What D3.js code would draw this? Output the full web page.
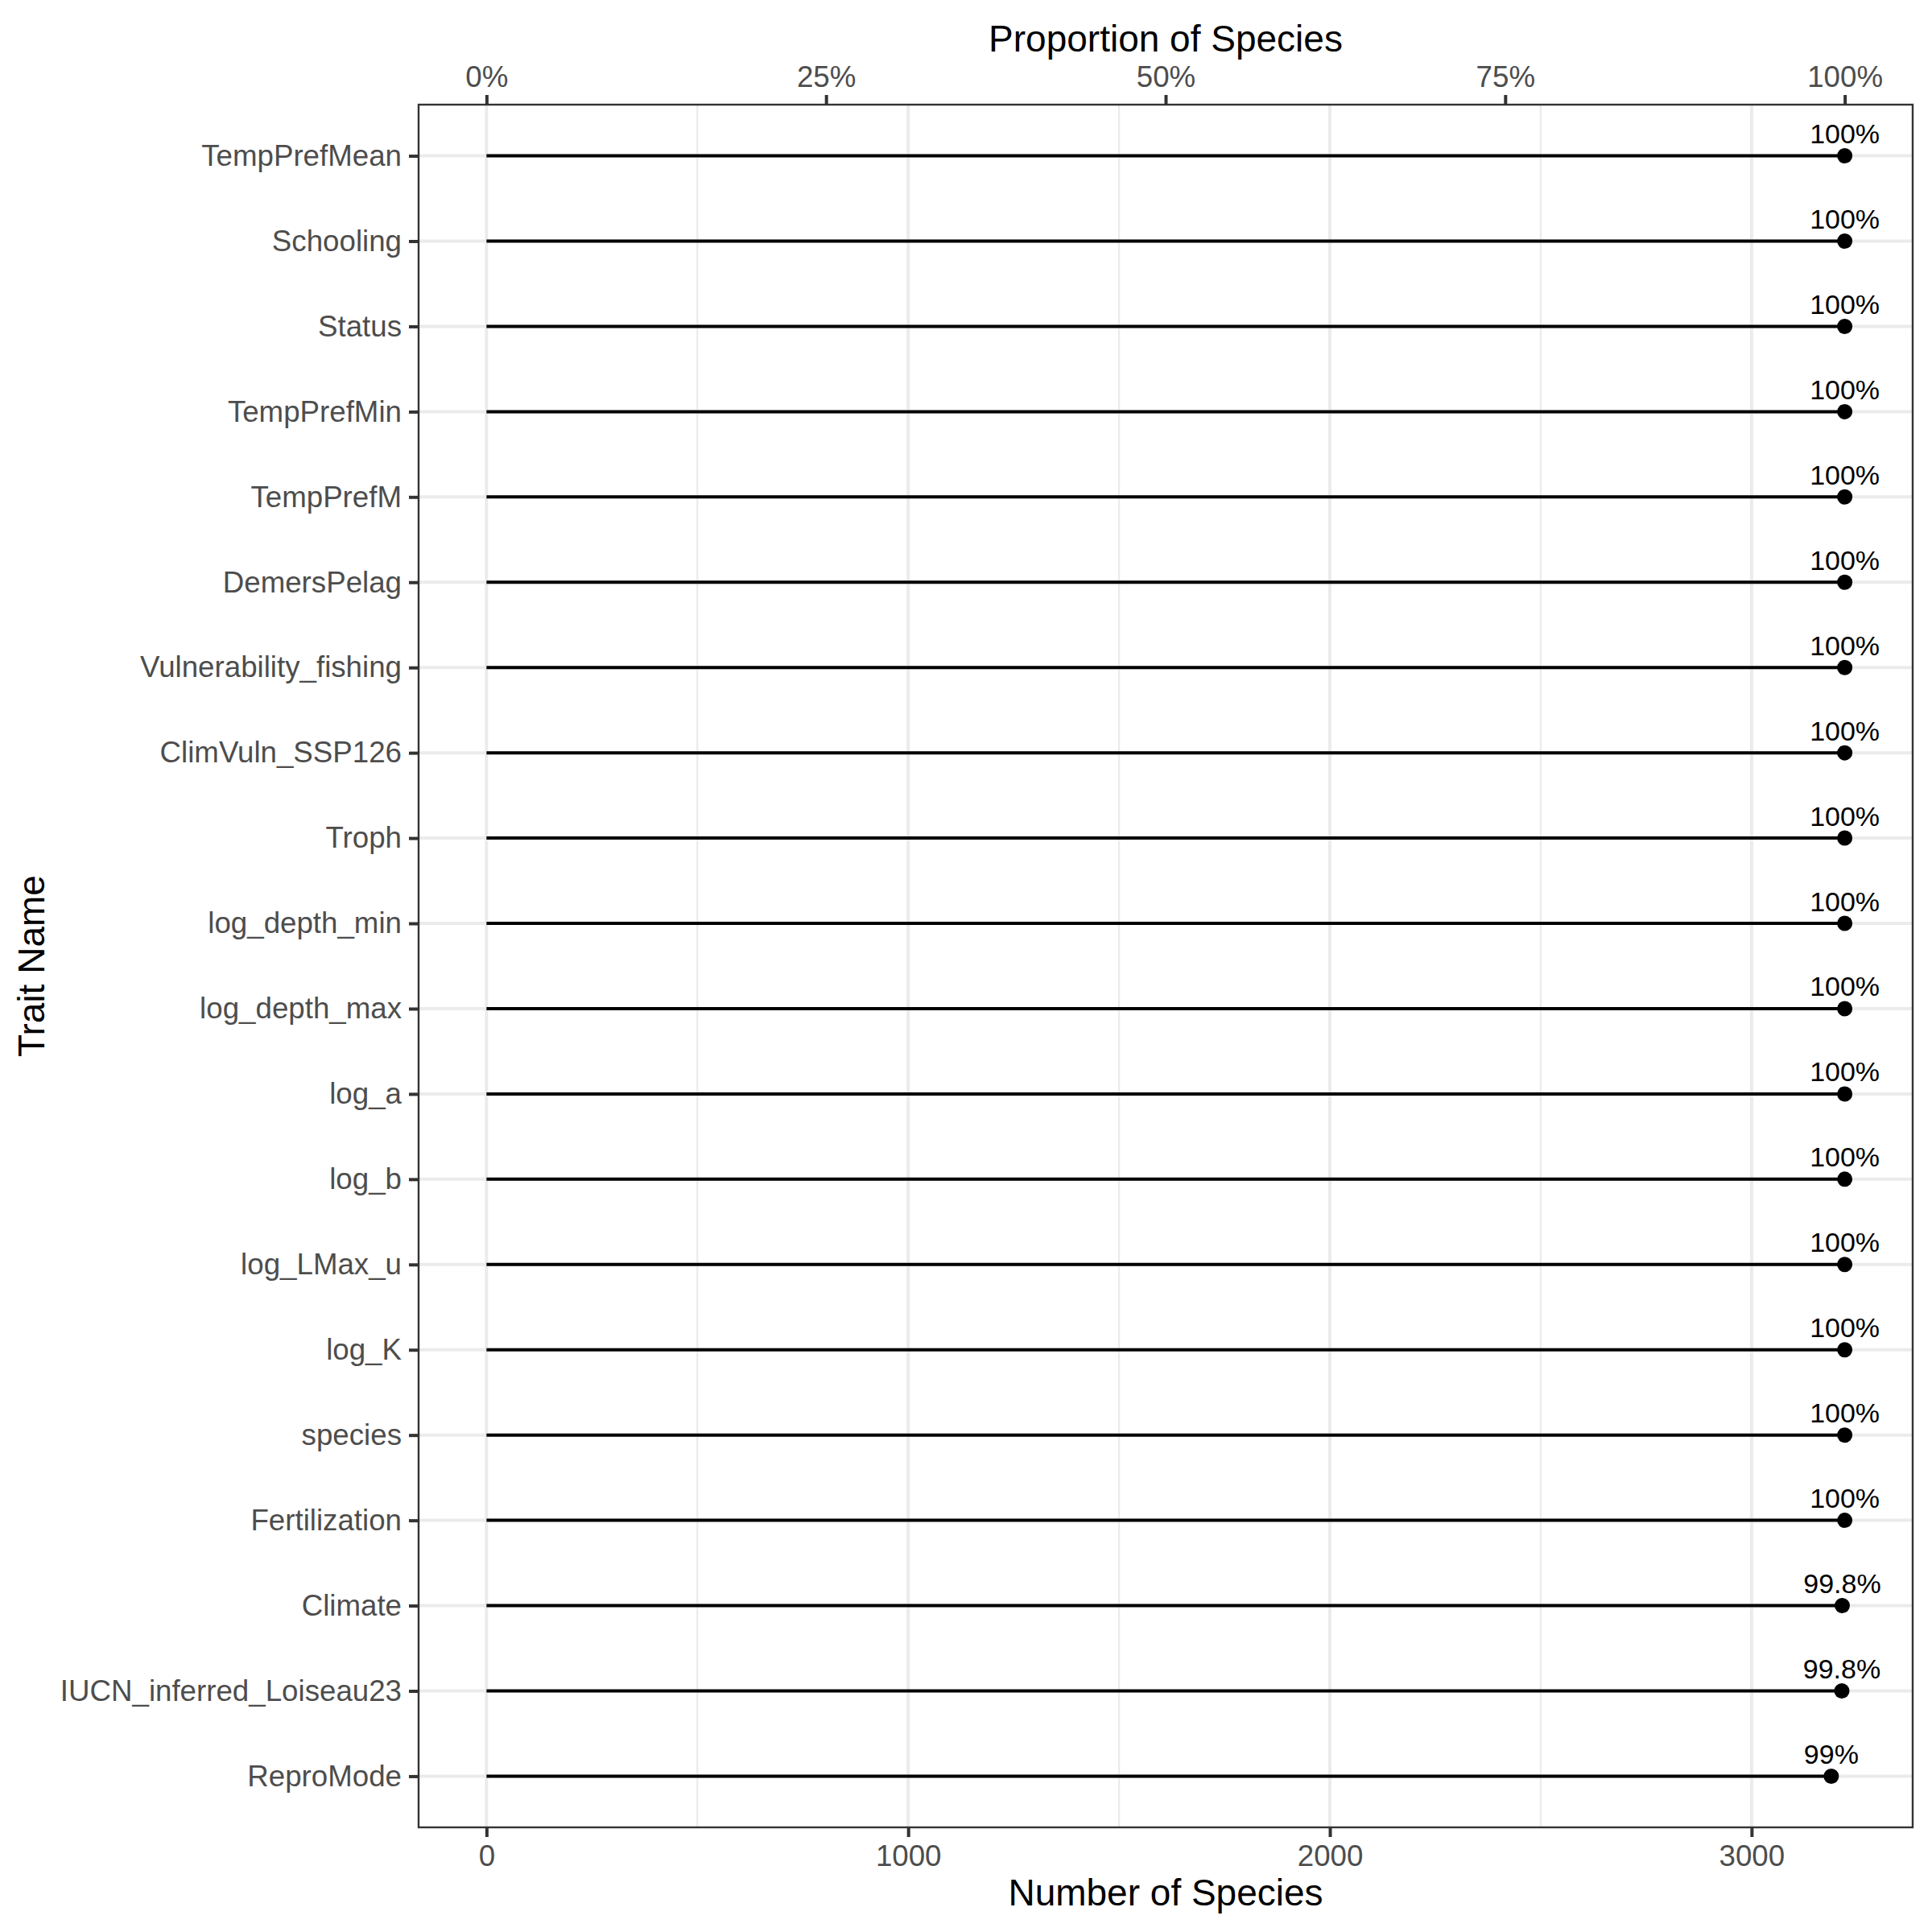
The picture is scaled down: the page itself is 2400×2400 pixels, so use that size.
<!DOCTYPE html>
<html>
<head>
<meta charset="utf-8">
<script src="https://cdn.jsdelivr.net/npm/d3@7"></script>
<style>
  html, body { margin: 0; padding: 0; background: #ffffff; }
  svg { display: block; }
  text { font-family: "Liberation Sans", Arial, Helvetica, sans-serif; }
</style>
</head>
<body>
<svg id="chart" width="2400" height="2400"></svg>
<script>
// ---- data ----
const traits = ["TempPrefMean","Schooling","Status","TempPrefMin","TempPrefM","DemersPelag",
  "Vulnerability_fishing","ClimVuln_SSP126","Troph","log_depth_min","log_depth_max","log_a",
  "log_b","log_LMax_u","log_K","species","Fertilization","Climate","IUCN_inferred_Loiseau23","ReproMode"];
const speciesCounts = [3221,3221,3221,3221,3221,3221,3221,3221,3221,3221,3221,3221,3221,3221,3221,3221,3221,3215,3214,3189];
const pctLabels = ["100%","100%","100%","100%","100%","100%","100%","100%","100%","100%",
  "100%","100%","100%","100%","100%","100%","100%","99.8%","99.8%","99%"];
const totalSpecies = 3221;
const countTicks = [0, 1000, 2000, 3000];
const countMinorTicks = [500, 1500, 2500];
const pctTicks = [0, 0.25, 0.5, 0.75, 1];
const pctTickLabels = ["0%","25%","50%","75%","100%"];

// ---- layout ----
const W = 2400, H = 2400;
const panel = { left: 520, right: 2376, top: 130, bottom: 2270 };
const svg = d3.select("#chart");

const x = d3.scaleLinear()
  .domain([-0.05 * totalSpecies, 1.05 * totalSpecies])
  .range([panel.left, panel.right]);
const xPct = d3.scaleLinear()
  .domain([-0.05, 1.05])
  .range([panel.left, panel.right]);
const y = d3.scalePoint()
  .domain(traits)
  .range([panel.top, panel.bottom])
  .padding(0.6);

// panel background
svg.append("rect")
  .attr("x", panel.left).attr("y", panel.top)
  .attr("width", panel.right - panel.left).attr("height", panel.bottom - panel.top)
  .attr("fill", "#ffffff");

const grid = svg.append("g");
// minor vertical grid
grid.selectAll("line.minor").data(countMinorTicks).enter().append("line")
  .attr("x1", d => x(d)).attr("x2", d => x(d))
  .attr("y1", panel.top).attr("y2", panel.bottom)
  .attr("stroke", "#EBEBEB").attr("stroke-width", 2.2);
// major vertical grid
grid.selectAll("line.majorx").data(countTicks).enter().append("line")
  .attr("x1", d => x(d)).attr("x2", d => x(d))
  .attr("y1", panel.top).attr("y2", panel.bottom)
  .attr("stroke", "#EBEBEB").attr("stroke-width", 4);
// major horizontal grid
grid.selectAll("line.majory").data(traits).enter().append("line")
  .attr("x1", panel.left).attr("x2", panel.right)
  .attr("y1", d => y(d)).attr("y2", d => y(d))
  .attr("stroke", "#EBEBEB").attr("stroke-width", 4);

// lollipops
const rows = traits.map((t, i) => ({ trait: t, count: speciesCounts[i], label: pctLabels[i] }));
const marks = svg.append("g");
marks.selectAll("line.seg").data(rows).enter().append("line")
  .attr("x1", x(0)).attr("x2", d => x(d.count))
  .attr("y1", d => y(d.trait)).attr("y2", d => y(d.trait))
  .attr("stroke", "#000000").attr("stroke-width", 4);
marks.selectAll("circle").data(rows).enter().append("circle")
  .attr("cx", d => x(d.count)).attr("cy", d => y(d.trait))
  .attr("r", 9.5).attr("fill", "#000000");
marks.selectAll("text").data(rows).enter().append("text")
  .attr("x", d => x(d.count)).attr("y", d => y(d.trait) - 15.5)
  .attr("text-anchor", "middle")
  .attr("font-size", 34)
  .attr("fill", "#000000")
  .text(d => d.label);

// panel border
svg.append("rect")
  .attr("x", panel.left).attr("y", panel.top)
  .attr("width", panel.right - panel.left).attr("height", panel.bottom - panel.top)
  .attr("fill", "none").attr("stroke", "#333333").attr("stroke-width", 2.4);

function styleAxis(g) {
  g.select(".domain").remove();
  g.selectAll(".tick line").attr("stroke", "#333333").attr("stroke-width", 4);
  g.selectAll(".tick text").attr("fill", "#4D4D4D").attr("font-size", 36.7)
    .attr("font-family", "\"Liberation Sans\", Arial, Helvetica, sans-serif");
}

// bottom axis
svg.append("g")
  .attr("transform", `translate(0,${panel.bottom})`)
  .call(d3.axisBottom(x).tickValues(countTicks).tickFormat(d3.format("d")).tickSize(12).tickPadding(10))
  .call(styleAxis);

// top axis (secondary, proportion)
svg.append("g")
  .attr("transform", `translate(0,${panel.top})`)
  .call(d3.axisTop(xPct).tickValues(pctTicks).tickFormat((d, i) => pctTickLabels[i]).tickSize(12).tickPadding(10))
  .call(styleAxis);

// left axis
svg.append("g")
  .attr("transform", `translate(${panel.left},0)`)
  .call(d3.axisLeft(y).tickSize(12).tickPadding(9))
  .call(styleAxis);

// titles
const cx = (panel.left + panel.right) / 2;
const cy = (panel.top + panel.bottom) / 2;
svg.append("text").attr("x", cx).attr("y", 64)
  .attr("text-anchor", "middle").attr("font-size", 46).attr("fill", "#000000")
  .text("Proportion of Species");
svg.append("text").attr("x", cx).attr("y", 2367)
  .attr("text-anchor", "middle").attr("font-size", 46).attr("fill", "#000000")
  .text("Number of Species");
svg.append("text")
  .attr("transform", `translate(55,${cy}) rotate(-90)`)
  .attr("text-anchor", "middle").attr("font-size", 46).attr("fill", "#000000")
  .text("Trait Name");
</script>
</body>
</html>
